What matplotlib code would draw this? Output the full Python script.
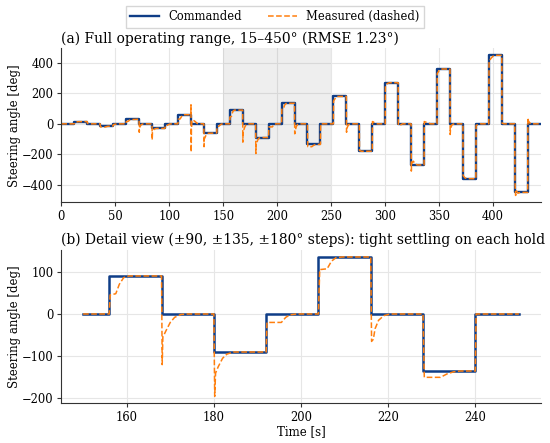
import numpy as np
import matplotlib
matplotlib.use("Agg")
import matplotlib.pyplot as plt

# ---- data ----
hold_s = 12
cmd_levels = [0, 15, 0, -15, 0, 30, 0, -30, 0, 60, 0, -60, 0, 90, 0, -90, 0, 135, 0,
              -135, 0, 180, 0, -180, 0, 270, 0, -270, 0, 360, 0, -360, 0, 450, 0, -450, 0]
cmd_times = [i * hold_s for i in range(len(cmd_levels) + 1)]

meas_t = [0, 12, 12.2, 13.5, 15, 24, 24.2, 26, 36, 36.2, 40, 43, 48, 48.2, 50, 52, 60,
          60.2, 62, 64, 72, 72.2, 72.4, 74, 76, 84, 84.2, 84.4, 86, 88, 96, 96.2, 98, 100, 102, 108,
          108.2, 110, 112, 114, 120, 120.1, 120.3, 120.5, 121, 122, 124, 126, 132,
          132.2, 132.4, 134, 136, 144, 144.2, 146, 148, 150, 156,
          156.2, 157.5, 158.3, 159.3, 160.5, 168,
          168.15, 168.3, 169, 170, 171, 172.5, 174, 180,
          180.2, 180.4, 181, 182, 183, 184.5, 192,
          192.2, 195.5, 196.5, 197.5, 199, 204,
          204.3, 206, 207, 208, 209.5, 216,
          216.2, 216.6, 217, 217.8, 219, 220.5, 228,
          228.3, 232, 233.5, 235, 236.5, 240,
          240.2, 252, 252.2, 253.5, 255, 256, 264,
          264.2, 264.5, 266, 268, 276, 276.2, 278, 288,
          288.2, 289, 291, 293, 300, 300.2, 302, 304, 312,
          312.2, 314, 316, 324, 324.2, 324.5, 326, 328, 330, 336,
          336.2, 338, 340, 342, 348, 348.2, 350, 352, 360,
          360.2, 360.5, 362, 364, 372, 372.2, 374, 376, 384,
          384.2, 386, 388, 396, 396.2, 398, 400, 402, 408,
          408.2, 410, 420, 420.2, 420.8, 421.5, 423, 425, 432,
          432.2, 432.6, 434, 436, 444]
meas_v = [0, 0, 7, 8, 14, 15, 3, 0, 0, -20, -22, -16, -15, -5, -2, 0, 0,
          15, 17, 28, 30, -55, -25, -5, 0, 0, -105, -55, -35, -30, -30, -10, -10, -2, 0, 0,
          30, 32, 55, 60, 60, 125, -185, -40, 20, 25, 15, 2, 0,
          -150, -100, -75, -62, -60, -20, -15, -2, 0, 0,
          45, 48, 70, 86, 90, 90,
          -120, -55, -40, -20, -8, -1, 0, 0,
          -195, -140, -125, -105, -95, -90, -90,
          -20, -20, -8, -2, 0, 0,
          105, 107, 125, 133, 135, 135,
          -65, -60, -35, -15, -4, 0, 0,
          -150, -150, -142, -137, -135, -135,
          0, 0, 150, 165, 178, 180, 180,
          -55, -30, -5, 0, 0, -175, -180, -180,
          15, 12, 3, 0, 0, 250, 265, 270, 270,
          -10, -8, 0, 0, -310, -260, -245, -265, -270, -270,
          15, 10, 5, 0, 0, 330, 350, 360, 360,
          -70, -30, -5, 0, 0, -340, -355, -360, -360,
          -10, -5, 0, 0, 410, 430, 445, 450, 450,
          5, 0, 0, -380, -470, -440, -455, -450, -450,
          40, 20, 5, 0, 0]

detail_range = (150, 250)
title_a = "(a) Full operating range, 15\u2013450\u00b0 (RMSE 1.23\u00b0)"
title_b = "(b) Detail view (\u00b190, \u00b1135, \u00b1180\u00b0 steps): tight settling on each hold"

# ---- style ----
plt.rcParams['font.family'] = ['DejaVu Serif']
c_cmd = '#0f3d87'
c_meas = '#ff7f0e'

fig = plt.figure(figsize=(5.5, 4.43), dpi=100)
ax1 = fig.add_axes([0.1115, 0.543, 0.8715, 0.348])
ax2 = fig.add_axes([0.1115, 0.0896, 0.8715, 0.3461])

cmd_t_plot = np.array(cmd_times)
cmd_v_plot = np.array(cmd_levels + [cmd_levels[-1]])
mt = np.array(meas_t)
mv = np.array(meas_v)

# panel a
ax1.axvspan(detail_range[0], detail_range[1], color='0.5', alpha=0.13, lw=0)
ax1.plot(cmd_t_plot, cmd_v_plot, drawstyle='steps-post', color=c_cmd, lw=1.7, label='Commanded')
ax1.plot(mt, mv, color=c_meas, lw=1.1, ls='--', label='Measured (dashed)')
ax1.set_xlim(0, 444)
ax1.set_ylabel('Steering angle [deg]', fontsize=8.5, labelpad=1)
ax1.set_title(title_a, loc='left', fontsize=10, pad=4)

# panel b
mask_c = (cmd_t_plot >= detail_range[0]) & (cmd_t_plot <= detail_range[1])
tc = np.concatenate([[detail_range[0]], cmd_t_plot[mask_c], [detail_range[1]]])
vc_idx = np.searchsorted(cmd_t_plot, tc, side='right') - 1
vc = cmd_v_plot[vc_idx]
ax2.plot(tc, vc, drawstyle='steps-post', color=c_cmd, lw=1.8)
mask_m = (mt >= detail_range[0]) & (mt <= detail_range[1])
ax2.plot(np.concatenate([mt[mask_m], [detail_range[1]]]),
         np.concatenate([mv[mask_m], [0]]), color=c_meas, lw=1.1, ls='--')
ax2.set_xlabel('Time [s]', fontsize=8.5, labelpad=1)
ax2.set_ylabel('Steering angle [deg]', fontsize=8.5, labelpad=1)
ax2.set_title(title_b, loc='left', fontsize=10, pad=4)

for ax in (ax1, ax2):
    ax.grid(True, color='0.9', lw=0.8)
    ax.set_axisbelow(True)
    ax.spines['top'].set_visible(False)
    ax.spines['right'].set_visible(False)
    ax.spines['left'].set_color('0.2')
    ax.spines['bottom'].set_color('0.2')
    ax.tick_params(labelsize=8.3, color='0.2', length=3, pad=2.5)

h, l = ax1.get_legend_handles_labels()
fig.legend(h, l, loc='upper center', ncol=2, fontsize=8.3, frameon=True,
           bbox_to_anchor=(0.5, 1.0), edgecolor='0.8', fancybox=False,
           columnspacing=2.3, handlelength=2.5)

fig.savefig('out.png', dpi=100)
